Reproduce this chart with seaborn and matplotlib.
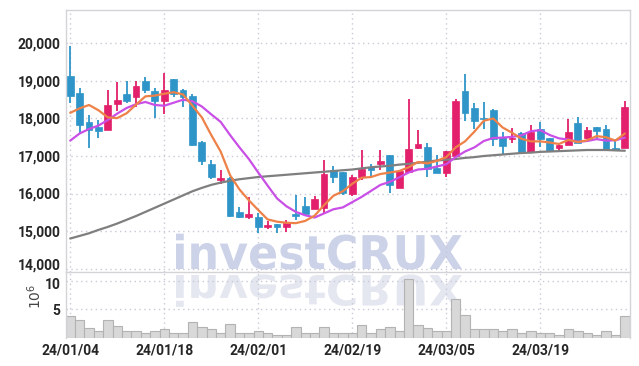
import numpy as np
import pandas as pd
import matplotlib
matplotlib.use('Agg')
import matplotlib.pyplot as plt
import seaborn as sns
from matplotlib.textpath import TextPath
from matplotlib.patches import PathPatch
from matplotlib.font_manager import FontProperties
from matplotlib.transforms import Affine2D, ScaledTranslation

# ── data (KRW, volume in millions) ──
dates = ['24/01/04', '24/01/18', '24/02/01', '24/02/19', '24/03/05', '24/03/19']
date_pos = [0, 10, 20, 30, 40, 50]

opens = [19130, 18670, 17900, 17760, 17690, 18390, 18650, 18580, 18990, 18730,
         18470, 19050, 18760, 18600, 17380, 16790, 16360, 16420, 15510, 15380,
         15370, 15110, 15190, 15120, 15450, 15670, 15600, 15620, 16630, 16570,
         15990, 16430, 16700, 16790, 17030, 16160, 16580, 17220, 17230, 16670,
         16550, 17000, 18730, 18270, 18010, 18220, 17500, 17460, 17620, 17110,
         17710, 17470, 17200, 17280, 17890, 17470, 17760, 17710, 17200, 17200]
closes = [18600, 17830, 17690, 17670, 18360, 18490, 18460, 18860, 18760, 18460,
          18760, 18640, 18560, 17290, 16870, 16450, 16420, 15410, 15380, 15450,
          15120, 15170, 15120, 15220, 15400, 15450, 15850, 16520, 16450, 16020,
          16450, 16650, 16630, 16870, 16230, 16610, 17190, 17320, 16660, 16550,
          17130, 18470, 18150, 17940, 17990, 17440, 17270, 17480, 17110, 17640,
          17440, 17140, 17280, 17630, 17350, 17690, 17670, 17180, 17160, 18300]
highs = [19920, 18800, 18080, 17960, 18760, 18970, 18990, 18990, 19100, 18800,
         19200, 19050, 18780, 18650, 17410, 16890, 16630, 16450, 15650, 15920,
         15470, 15260, 15190, 15290, 15960, 15900, 15940, 16890, 16730, 16570,
         16490, 17160, 16800, 17160, 17030, 16630, 18510, 17690, 17350, 17030,
         17130, 18510, 19180, 18420, 18450, 18240, 17650, 17740, 17650, 17820,
         17910, 17470, 17280, 17980, 18030, 17760, 17760, 17820, 17430, 18470]
lows = [18400, 17590, 17200, 17470, 17680, 18200, 18400, 18310, 18670, 18020,
        18120, 18580, 18310, 17270, 16750, 16380, 16250, 15370, 15360, 15310,
        14960, 15060, 14960, 14970, 15290, 15400, 15580, 15470, 16270, 15960,
        15930, 16360, 16470, 16630, 16020, 16150, 16570, 17180, 16430, 16540,
        16430, 16990, 17940, 17710, 17710, 17270, 17050, 17340, 17050, 17110,
        17230, 17110, 17140, 17280, 17350, 17440, 17440, 17180, 17160, 17200]

ma5 = [18150, 18270, 18360, 18220, 18030, 18010, 18140, 18370, 18590, 18610,
       18660, 18700, 18640, 18340, 18030, 17560, 17120, 16490, 16110, 15820,
       15560, 15310, 15250, 15220, 15210, 15270, 15410, 15690, 15940, 16060,
       16260, 16420, 16440, 16520, 16560, 16600, 16700, 16840, 16800, 16870,
       16970, 17230, 17390, 17650, 17940, 18000, 17760, 17620, 17460, 17390,
       17390, 17360, 17320, 17430, 17370, 17420, 17530, 17500, 17410, 17600]
ma10 = [17410, 17600, 17720, 17810, 17960, 18130, 18280, 18380, 18440, 18360,
        18340, 18420, 18500, 18460, 18320, 18110, 17910, 17560, 17230, 16920,
        16560, 16210, 15870, 15660, 15510, 15420, 15360, 15470, 15580, 15630,
        15770, 15910, 16070, 16230, 16310, 16430, 16560, 16640, 16660, 16720,
        16780, 16970, 17120, 17230, 17400, 17480, 17490, 17510, 17550, 17660,
        17690, 17560, 17470, 17440, 17380, 17400, 17450, 17410, 17420, 17490]
ma_long = [14800, 14870, 14940, 15030, 15110, 15200, 15300, 15400, 15510, 15620,
           15730, 15840, 15950, 16060, 16150, 16230, 16290, 16340, 16380, 16410,
           16440, 16460, 16480, 16500, 16520, 16540, 16560, 16580, 16600, 16620,
           16640, 16670, 16700, 16720, 16740, 16770, 16790, 16820, 16850, 16880,
           16900, 16920, 16950, 16970, 17000, 17020, 17040, 17060, 17080, 17090,
           17110, 17120, 17130, 17140, 17150, 17160, 17160, 17160, 17150, 17140]

volume = [3.8, 3.1, 1.8, 1.3, 3.1, 2.1, 1.3, 1.3, 0.95, 1.3,
          1.65, 0.95, 0.95, 2.8, 1.9, 1.65, 0.95, 2.5, 0.8, 0.8,
          1.3, 0.8, 0.45, 0.6, 1.9, 0.95, 0.8, 2.0, 0.8, 0.95,
          0.95, 2.2, 0.8, 1.5, 1.9, 1.3, 10.4, 2.3, 1.8, 1.15,
          1.15, 6.9, 4.1, 1.65, 1.5, 1.65, 1.15, 1.5, 0.95, 1.15,
          0.95, 0.8, 0.6, 1.65, 1.15, 0.95, 0.6, 1.15, 0.6, 3.8]

price_ticks = [14000, 15000, 16000, 17000, 18000, 19000, 20000]
vol_ticks = [5, 10]

# ── style ──
UP, DOWN = '#e2206b', '#2f95c8'
GRID = '#c9c9d9'
FRAME = '#d4d4d8'
TXT = '#262626'

sns.set_theme(style='white')
plt.rcParams['font.family'] = ['Roboto', 'DejaVu Sans']

W, H = 639, 366
fig = plt.figure(figsize=(W / 100, H / 100), dpi=100)
fig.patch.set_facecolor('white')

ax = fig.add_axes([66 / W, 1 - 272.3 / H, (630 - 66) / W, (272.3 - 9.5) / H])
axv = fig.add_axes([66 / W, 1 - 338 / H, (630 - 66) / W, (338 - 272.3) / H], sharex=ax)
for a in (ax, axv):
    a.patch.set_alpha(0)

df = pd.DataFrame({'idx': np.arange(len(closes)), 'open': opens, 'close': closes,
                   'high': highs, 'low': lows, 'ma5': ma5, 'ma10': ma10,
                   'ma_long': ma_long, 'volume': volume})

# candles
cols = np.where(df['close'] >= df['open'], UP, DOWN)
body_lo = np.minimum(df['open'], df['close'])
body_h = np.maximum(np.abs(df['close'] - df['open']), 15)
ax.vlines(df['idx'], df['low'], df['high'], colors=cols, linewidth=1.3, zorder=2)
ax.bar(df['idx'], body_h, bottom=body_lo, width=0.72, color=cols,
       edgecolor=cols, linewidth=0.5, zorder=3)

# moving averages
sns.lineplot(data=df, x='idx', y='ma_long', ax=ax, color='#7f7f7f', linewidth=1.6, zorder=4)
sns.lineplot(data=df, x='idx', y='ma10', ax=ax, color='#c94fe6', linewidth=1.6, zorder=5)
sns.lineplot(data=df, x='idx', y='ma5', ax=ax, color='#ee8148', linewidth=1.6, zorder=6)

# volume
sns.barplot(data=df, x='idx', y='volume', ax=axv, color='#d8d8d8', saturation=1,
            edgecolor='#b3b3b3', linewidth=0.8, width=1.0, native_scale=True, zorder=2)

# axes cosmetics
ax.set_xlim(-0.45, 59.55)
ax.set_ylim(13900, 20905)
axv.set_ylim(0, 11.5)
ax.set_yticks(price_ticks)
ax.set_yticklabels([f'{v:,}' for v in price_ticks])
axv.set_yticks(vol_ticks)
axv.set_yticklabels([str(v) for v in vol_ticks])
axv.set_xticks(date_pos)
axv.set_xticklabels(dates)
ax.tick_params(axis='x', labelbottom=False, length=0)
for a in (ax, axv):
    a.set_xlabel('')
    a.set_ylabel('')
    a.grid(True, linestyle=(0, (1, 2.5)), color=GRID, linewidth=1.0)
    a.set_axisbelow(True)
    a.tick_params(axis='both', length=0, pad=4, labelsize=10, labelcolor=TXT)
    for lab in a.get_xticklabels() + a.get_yticklabels():
        lab.set_fontweight('bold')
    for side in ('left', 'right', 'top', 'bottom'):
        a.spines[side].set_color(FRAME)
        a.spines[side].set_linewidth(1.0)
axv.spines['top'].set_visible(False)
axv.spines['bottom'].set_visible(False)

# 14,000 and 10 sit tight against the pane border: nudge them apart a little
lab14 = ax.get_yticklabels()[0]
lab14.set_transform(lab14.get_transform() + ScaledTranslation(0, 3 / 72, fig.dpi_scale_trans))
lab10 = axv.get_yticklabels()[-1]
lab10.set_transform(lab10.get_transform() + ScaledTranslation(0, -2 / 72, fig.dpi_scale_trans))

fig.text(35 / W, 1 - 296 / H, r'$10^6$', rotation=90, ha='center', va='center',
         fontsize=10, color='#444444')

# watermark + reflection (heavy glyphs fitted to the reference footprint)
fp = FontProperties(family='DejaVu Sans', weight='bold')
tp = TextPath((0, 0), 'investCRUX', size=50, prop=fp)
bb = tp.get_extents()
sx = 286 / bb.width
sy = 36 / bb.height
x0 = 176 - bb.x0 * sx
wm = PathPatch(tp, transform=Affine2D().scale(sx, sy).translate(x0, H - 269),
               facecolor='#c4cbe4', edgecolor='none', alpha=0.85, zorder=-1)
refl = PathPatch(tp, transform=Affine2D().scale(sx, -sy * 0.9).translate(x0, H - 275),
                 facecolor='#dcdfec', edgecolor='none', alpha=0.75, zorder=-1)
fig.add_artist(wm)
fig.add_artist(refl)

fig.savefig('out.png', dpi=100)
